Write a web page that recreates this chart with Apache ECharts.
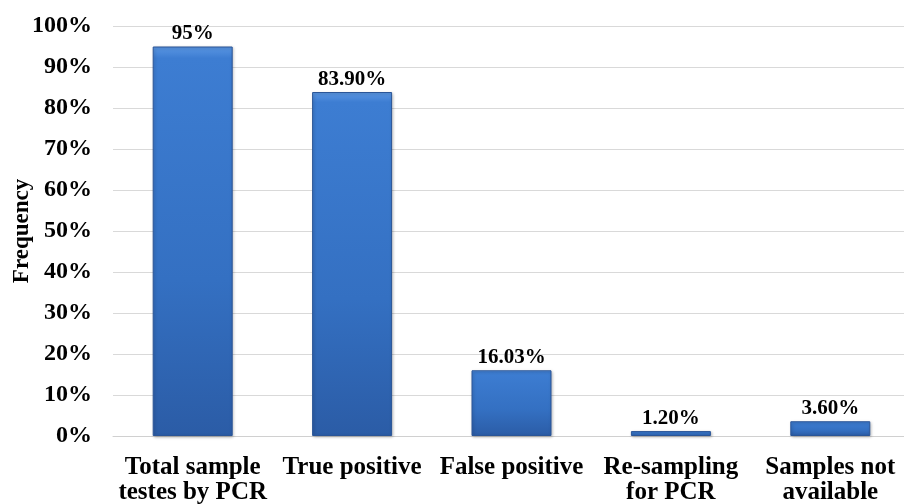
<!DOCTYPE html>
<html>
<head>
<meta charset="utf-8">
<script src="https://cdn.jsdelivr.net/npm/echarts@6/dist/echarts.min.js"></script>
<style>html,body{margin:0;padding:0;background:#fff}#c{width:904px;height:504px}</style>
</head>
<body>
<div id="c"></div>
<script>
const categories = ['Total sample\ntestes by PCR', 'True positive', 'False positive', 'Re-sampling\nfor PCR', 'Samples not\navailable'];
const values = [95, 83.9, 16.03, 1.2, 3.6];
const valueLabels = ['95%', '83.90%', '16.03%', '1.20%', '3.60%'];
const yTicks = [0, 10, 20, 30, 40, 50, 60, 70, 80, 90, 100];

const font = '"Liberation Serif", "Times New Roman", serif';
const chart = echarts.init(document.getElementById('c'));
chart.setOption({
  animation: false,
  grid: { left: 113, right: -6, top: 26, bottom: 68, containLabel: false, outerBoundsMode: 'none' },
  xAxis: {
    type: 'category',
    data: categories,
    axisTick: { show: false },
    axisLine: { lineStyle: { color: '#d0d0d0', width: 1 } },
    axisLabel: { color: '#000', fontFamily: font, fontWeight: 'bold', fontSize: 25, lineHeight: 25, margin: 19, interval: 0 }
  },
  yAxis: {
    type: 'value',
    min: 0, max: 100, interval: 10,
    name: 'Frequency',
    nameLocation: 'middle',
    nameGap: 79,
    nameMoveOverlap: false,
    nameTextStyle: { color: '#000', fontFamily: font, fontWeight: 'bold', fontSize: 23 },
    axisLine: { show: false },
    axisTick: { show: false },
    splitLine: { lineStyle: { color: '#d9d9d9', width: 1 } },
    axisLabel: { color: '#000', fontFamily: font, fontWeight: 'bold', fontSize: 24, margin: 21,
      formatter: v => yTicks.includes(v) ? v + '%' : '' }
  },
  series: [{
    type: 'bar',
    data: values,
    barWidth: 80,
    itemStyle: {
      color: new echarts.graphic.LinearGradient(0, 0, 0, 1, [
        { offset: 0, color: '#5b97e3' },
        { offset: 0.03, color: '#3d7dd2' },
        { offset: 0.6, color: '#3470c2' },
        { offset: 1, color: '#2b5ca6' }
      ]),
      borderColor: '#2a5597',
      borderWidth: 1,
      shadowColor: 'rgba(0,0,0,0.25)',
      shadowBlur: 3,
      shadowOffsetX: 1,
      shadowOffsetY: 1
    },
    label: {
      show: true, position: 'top', distance: 2,
      color: '#000', fontFamily: font, fontWeight: 'bold', fontSize: 21,
      formatter: p => valueLabels[p.dataIndex]
    }
  }]
});
</script>
</body>
</html>
